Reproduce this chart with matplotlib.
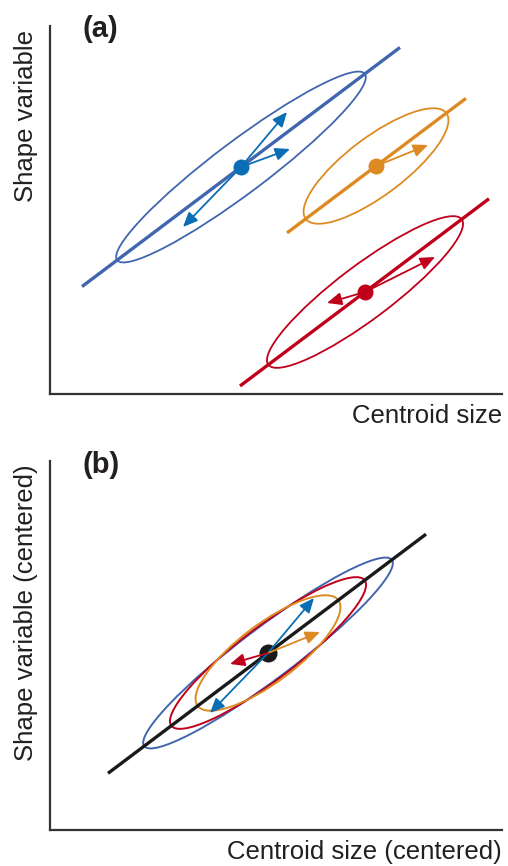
import numpy as np
import matplotlib
matplotlib.use("Agg")
import matplotlib.pyplot as plt
from matplotlib.patches import Ellipse

plt.rcParams['font.family'] = ['Liberation Sans', 'DejaVu Sans']

# groups (blue, orange, red), units are axis pixels
group_colors = ['#4066ae', '#dd8a22', '#c0001b']
dot_colors = ['#0a6eb4', '#dd8a22', '#c0001b']
arrow_colors = ['#0a6eb4', '#dd8a22', '#c0001b']

# panel (a): group means
center_x = [191, 326, 315]
center_y = [227, 228, 102]
# common allometric slope
slope = 0.752
# extent of each group's regression line
line_x0 = [32, 237, 190]
line_x1 = [350, 416, 439]
# ellipse semi-axes
semi_major = [155, 88, 121]
semi_minor = [26, 29, 27]

# arrows (dx, dy) from the group mean
blue_arrows = [(46, 55), (49, 18), (-58, -60)]
orange_arrows = [(52, 21)]
red_arrows = [(70, 35), (-38, -11)]
arrows_a = [blue_arrows, orange_arrows, red_arrows]
# panel (b) keeps only some of them
arrows_b = [[blue_arrows[0], blue_arrows[2]], orange_arrows, [red_arrows[1]]]

# panel (b): pooled centre and common line
center_b = (218, 177)
line_b = (58, 376)

txt = '#231f20'
W, H = 508, 866

fig = plt.figure(figsize=(W / 100, H / 100), dpi=100)
ax_a = fig.add_axes([50 / W, (H - 394) / H, 452 / W, 368 / H])
ax_b = fig.add_axes([50 / W, (H - 830) / H, 452 / W, 369 / H])

angle = np.degrees(np.arctan(slope))


def setup(ax, xlabel, ylabel, tag, ymax, tag_y):
    ax.set_xlim(0, 452)
    ax.set_ylim(0, ymax)
    ax.set_xticks([])
    ax.set_yticks([])
    for s in ['top', 'right']:
        ax.spines[s].set_visible(False)
    for s in ['left', 'bottom']:
        ax.spines[s].set_linewidth(1.6)
        ax.spines[s].set_color('#333333')
    ax.set_xlabel(xlabel, fontsize=18.5, color=txt, loc='right')
    ax.xaxis.set_label_coords(1.0, -0.028)
    ax.xaxis.label.set_va('top')
    ax.set_ylabel(ylabel, fontsize=18.5, color=txt, loc='top')
    ax.yaxis.set_label_coords(-0.053, 0.99)
    ax.yaxis.label.set_va('center')
    ax.text(33 / 452, tag_y, tag, transform=ax.transAxes,
            fontsize=21, fontweight='bold', color=txt, ha='left', va='center')


def arrow(ax, x, y, dx, dy, c):
    ax.annotate('', xy=(x + dx, y + dy), xytext=(x, y),
                arrowprops=dict(arrowstyle='-|>,head_length=0.55,head_width=0.24',
                                mutation_scale=16, lw=1.3, color=c,
                                shrinkA=0, shrinkB=0), zorder=4)


# ---- panel (a)
setup(ax_a, 'Centroid size', 'Shape variable', '(a)', 368, 0.993)
for i in range(3):
    cx, cy = center_x[i], center_y[i]
    xs = np.array([line_x0[i], line_x1[i]])
    ax_a.plot(xs, cy + slope * (xs - cx), color=group_colors[i], lw=2.4,
              solid_capstyle='butt', zorder=2)
    ax_a.add_patch(Ellipse((cx, cy), 2 * semi_major[i], 2 * semi_minor[i],
                           angle=angle, fill=False, ec=group_colors[i], lw=1.3, zorder=3))
    for dx, dy in arrows_a[i]:
        arrow(ax_a, cx, cy, dx, dy, arrow_colors[i])
    ax_a.plot(cx, cy, 'o', ms=11.5, color=dot_colors[i], mec='none', zorder=5)

# ---- panel (b)
setup(ax_b, 'Centroid size (centered)', 'Shape variable (centered)', '(b)', 369, 0.99)
bx, by = center_b
for i in [0, 2, 1]:
    ax_b.add_patch(Ellipse((bx, by), 2 * semi_major[i], 2 * semi_minor[i],
                           angle=angle, fill=False, ec=group_colors[i], lw=1.4, zorder=2))
xs = np.array(line_b)
ax_b.plot(xs, by + slope * (xs - bx), color='#1a1a1a', lw=2.4,
          solid_capstyle='butt', zorder=3)
ax_b.plot(bx, by, 'o', ms=13, color='#1a1a1a', mec='none', zorder=3)
for i in range(3):
    for dx, dy in arrows_b[i]:
        arrow(ax_b, bx, by, dx, dy, arrow_colors[i])

fig.savefig('out.png', dpi=100)
